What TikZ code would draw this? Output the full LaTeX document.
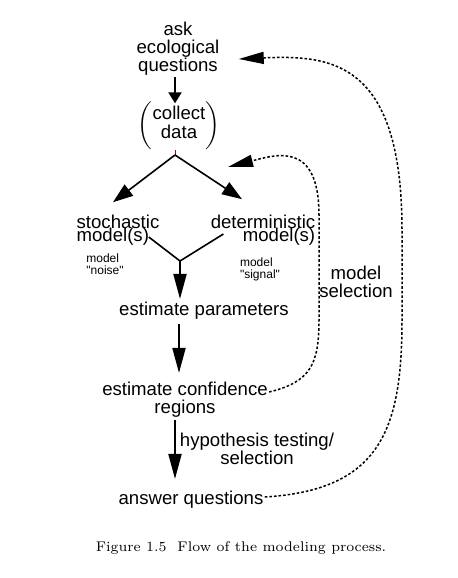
\documentclass[tikz,border=0pt]{standalone}
\usepackage{fontspec}
\newfontfamily\arialfont{Liberation Sans}
\usepackage{tikz}
\usetikzlibrary{arrows.meta, positioning, calc}
\definecolor{tickred}{RGB}{140,20,20}
\newcommand{\tightlines}{\lineskiplimit=-10pt\relax}

\begin{document}
\begin{tikzpicture}[
    x=0.5pt, y=-0.5pt,
    txt/.style={inner sep=0pt, align=center, font=\arialfont\fontsize{9.3}{9}\selectfont},
    tight/.style={txt, font={\arialfont\fontsize{9.3}{6.75}\selectfont\tightlines}},
    note/.style={inner sep=0pt, align=left, font=\arialfont\fontsize{6}{6}\selectfont},
    arrow/.style={-{Triangle[length=12.5pt, width=6.5pt]}, line width=1pt},
    split arrow/.style={-{Triangle[length=10pt, width=7pt]}, line width=0.8pt},
    feedback/.style={-{Triangle[length=12.5pt, width=6pt]}, line width=0.75pt, dash pattern=on 1.3pt off 1pt}
]
\useasboundingbox (0,0) rectangle (458,578);

% flow
\node[txt] (ask) at (178,49) {ask\\ecological\\questions};
\node[txt] (collect) at (179,125) {$\biggl(\begin{tabular}{@{}c@{}}collect\\data\end{tabular}\biggr)$};
\coordinate (split) at (175,155);
\node[tight, align=left] (stoch) at (118,230) {stochastic\\model(s)};
\node[tight, align=right] (determ) at (263,230) {deterministic\\model(s)};
\coordinate (join) at (180,261);
\node[note] (noise) at (105,264) {model\\"noise"};
\node[note] (signal) at (260,269) {model\\"signal"};
\node[txt] (params) at (204,311) {estimate parameters};
\node[txt] (conf) at (185,400) {estimate confidence\\regions};
\node[txt] (hyp) at (257,449) {hypothesis testing/\\selection};
\node[txt] (answer) at (191,500) {answer questions};
\node[txt] (msel) at (356,282) {model\\selection};
\node[inner sep=0pt, font=\fontsize{7}{8}\selectfont] (cap) at (241,548) {Figure 1.5\ \ Flow of the modeling process.};
\coordinate (reselect) at (228,167);

% arrows
\draw[arrow, -{Triangle[length=5.5pt, width=6.5pt]}] ($(ask.south)+(-3,1)$) -- ($(collect.north)+(-4,3)$);
\draw[tickred, line width=0.5pt] ($(split)+(0,-5)$) -- (split);
\draw[split arrow] (split) -- ($(stoch.north)+(-5,-12)$);
\draw[split arrow] (split) -- ($(determ.north)+(-21,-15)$);
\draw[line width=0.8pt] ($(stoch.east)+(-11,7)$) -- (join) -- ($(determ.west)+(13,4)$);
\draw[arrow] (join) -- ($(join |- params.north)+(0,-3)$);
\draw[arrow] ($(params.south)+(-25,4)$) -- ($(conf.north)+(-6,-9)$);
\draw[arrow] ($(conf.south)+(-10,2)$) -- ($(answer.north)+(-16,-12)$);

% feedback loops
\draw[feedback] ($(conf.east)+(1,-8)$) .. controls (310,382) and (319,365) .. (319,320)
    -- (319,215) .. controls (319,140) and (275,155) .. (reselect);
\draw[feedback] ($(answer.east)+(1,-3)$) .. controls (380,490) and (402,430) .. (402,320)
    -- (402,230) .. controls (402,60) and (330,55) .. ($(ask.east)+(19,10)$);
\end{tikzpicture}
\end{document}
